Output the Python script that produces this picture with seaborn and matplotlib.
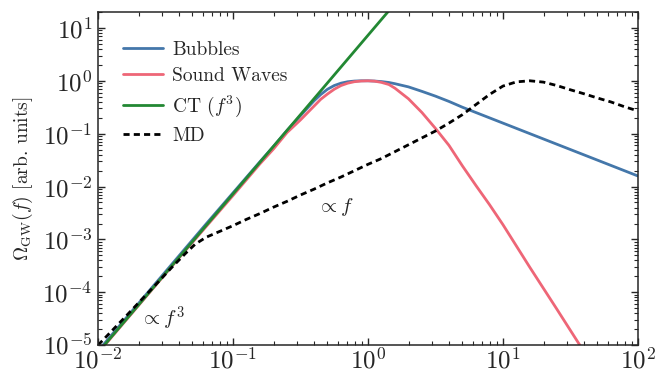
import numpy as np
import pandas as pd
import matplotlib
matplotlib.use("Agg")
import matplotlib.pyplot as plt
from matplotlib.ticker import LogLocator, NullFormatter
import seaborn as sns

# ---- data (log10 of frequency and of Omega_GW) ----
bubbles_logf = [-2.0, -1.8, -1.6, -1.4, -1.2, -1.0, -0.8, -0.7, -0.6, -0.5, -0.45, -0.4,
                -0.35, -0.3, -0.25, -0.2, -0.15, -0.1, -0.05, 0.0, 0.05, 0.1, 0.155, 0.2,
                0.3, 0.4, 0.5, 0.6, 0.7, 0.8, 0.9, 1.0, 1.2, 1.4, 1.6, 1.8, 2.0]
bubbles_logy = [-5.11, -4.51, -3.91, -3.31, -2.71, -2.12, -1.53, -1.24, -0.94, -0.66, -0.52, -0.38,
                -0.26, -0.16, -0.09, -0.045, -0.018, -0.005, 0.0, 0.0, -0.005, -0.015, -0.032, -0.055,
                -0.115, -0.20, -0.29, -0.39, -0.50, -0.60, -0.70, -0.80, -1.0, -1.2, -1.4, -1.6, -1.8]

sound_logf = [-2.0, -1.8, -1.6, -1.4, -1.2, -1.0, -0.8, -0.7, -0.6, -0.5, -0.45, -0.4,
              -0.35, -0.3, -0.25, -0.2, -0.15, -0.1, -0.05, 0.0, 0.05, 0.1, 0.155, 0.2,
              0.3, 0.4, 0.5, 0.6, 0.7, 0.8, 0.9, 1.0, 1.2, 1.4, 1.6, 1.7]
sound_logy = [-5.15, -4.55, -3.95, -3.35, -2.76, -2.17, -1.57, -1.29, -0.98, -0.74, -0.61, -0.48,
              -0.35, -0.25, -0.16, -0.09, -0.045, -0.017, -0.004, 0.0, -0.007, -0.03, -0.07, -0.14,
              -0.34, -0.60, -0.90, -1.22, -1.61, -1.98, -2.34, -2.72, -3.53, -4.32, -5.12, -5.52]

ct_logf = [-2.0, -1.0, 0.0, 0.3]
ct_logy = [-5.14, -2.14, 0.86, 1.76]

md_logf = [-2.0, -1.8, -1.6, -1.45, -1.35, -1.28, -1.2, -1.1, -1.0, -0.9, -0.8, -0.7, -0.6,
           -0.5, -0.4, -0.3, -0.2, -0.1, 0.0, 0.1, 0.2, 0.3, 0.4, 0.5, 0.6, 0.7, 0.8, 0.9,
           1.0, 1.1, 1.2, 1.3, 1.4, 1.5, 1.6, 1.7, 1.8, 1.9, 2.0]
md_logy = [-5.0, -4.47, -3.93, -3.52, -3.26, -3.09, -2.96, -2.85, -2.74, -2.62, -2.51, -2.39, -2.28,
           -2.16, -2.05, -1.93, -1.82, -1.70, -1.58, -1.47, -1.34, -1.21, -1.08, -0.95, -0.80, -0.64, -0.45, -0.26,
           -0.10, -0.02, 0.0, -0.025, -0.09, -0.17, -0.245, -0.325, -0.40, -0.49, -0.57]

labels = ["Bubbles", "Sound Waves", "CT ($f^3$)", "MD"]
colors = ["#4477AA", "#EE6677", "#228833", "black"]

sns.set_style("ticks")
plt.rcParams["font.family"] = ["cmr10"]
plt.rcParams["mathtext.fontset"] = "cm"
plt.rcParams["axes.formatter.use_mathtext"] = True
plt.rcParams["axes.unicode_minus"] = False

fig = plt.figure(figsize=(6.6, 3.81), dpi=100)
ax = fig.add_axes([0.1485, 0.094, 0.818, 0.8745])

series = [(bubbles_logf, bubbles_logy), (sound_logf, sound_logy), (ct_logf, ct_logy), (md_logf, md_logy)]
for (lf, ly), lab, col in zip(series, labels, colors):
    df = pd.DataFrame({"f": np.power(10.0, lf), "omega": np.power(10.0, ly)})
    kw = dict(lw=2.0, color=col, label=lab, estimator=None, sort=False, ax=ax)
    if lab == "MD":
        kw["linestyle"] = (0, (2.2, 1.5))
    sns.lineplot(data=df, x="f", y="omega", **kw)

ax.set_xscale("log")
ax.set_yscale("log")
ax.set_xlim(1e-2, 1e2)
ax.set_ylim(1e-5, 2e1)

ax.xaxis.set_major_locator(LogLocator(base=10, numticks=20))
ax.yaxis.set_major_locator(LogLocator(base=10, numticks=20))
ax.xaxis.set_minor_locator(LogLocator(base=10, subs=np.arange(2, 10), numticks=100))
ax.yaxis.set_minor_locator(LogLocator(base=10, subs=np.arange(2, 10), numticks=100))
ax.xaxis.set_minor_formatter(NullFormatter())
ax.yaxis.set_minor_formatter(NullFormatter())
ax.tick_params(which="both", direction="in", top=True, right=True, labelsize=18)
ax.tick_params(which="major", length=5, width=1)
ax.tick_params(which="minor", length=3, width=0.8)
ax.tick_params(axis="x", which="major", pad=2)
ax.tick_params(axis="y", which="major", pad=4)
for s in ax.spines.values():
    s.set_linewidth(1.1)

ax.set_xlabel("")
ax.set_ylabel(r"$\Omega_{\mathrm{GW}}(f)$ [arb. units]", fontsize=14, labelpad=5)

ax.text(0.0205, 10 ** -4.5, r"$\propto f^3$", fontsize=15, ha="left", va="center")
ax.text(0.42, 10 ** -2.39, r"$\propto f$", fontsize=15, ha="left", va="center")

ax.legend(loc="upper left", bbox_to_anchor=(0.013, 0.965), frameon=False, fontsize=14,
          handlelength=2.1, labelspacing=0.42, handletextpad=0.45)

fig.savefig("out.png", dpi=100)
